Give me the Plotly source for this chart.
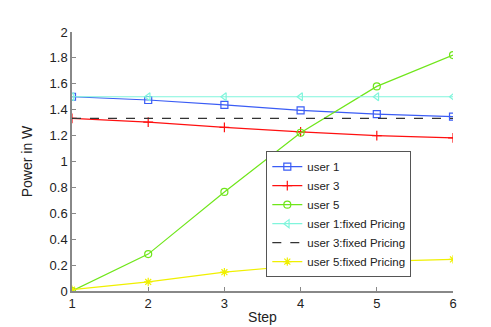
import plotly.graph_objects as go

steps = [1, 2, 3, 4, 5, 6]
user1 = [1.50, 1.475, 1.437, 1.395, 1.366, 1.347]
user3 = [1.333, 1.304, 1.264, 1.228, 1.200, 1.183]
user5 = [0.0, 0.285, 0.765, 1.222, 1.580, 1.822]
user1_fixed = [1.50, 1.50, 1.50, 1.50, 1.50, 1.50]
user3_fixed = [1.333, 1.333, 1.333, 1.333, 1.333, 1.333]
user5_fixed = [0.01, 0.07, 0.145, 0.197, 0.229, 0.244]

series = [
    ("user 1", user1, "#3a5cf5", "square-open", "solid"),
    ("user 3", user3, "#ff1010", "cross-thin-open", "solid"),
    ("user 5", user5, "#6fe61a", "circle-open", "solid"),
    ("user 1:fixed Pricing", user1_fixed, "#80f5dc", "triangle-left-open", "solid"),
    ("user 3:fixed Pricing", user3_fixed, "#333333", None, "dash"),
    ("user 5:fixed Pricing", user5_fixed, "#f0f000", "asterisk-open", "solid"),
]

fig = go.Figure()
for name, vals, color, symbol, dash in series:
    if symbol is None:
        fig.add_trace(go.Scatter(x=steps, y=vals, name=name, mode="lines",
                                 line=dict(color=color, width=1.2, dash="dash")))
    else:
        fig.add_trace(go.Scatter(
            x=steps, y=vals, name=name, mode="lines+markers",
            line=dict(color=color, width=1.2, dash=dash),
            marker=dict(symbol=symbol, size=7, color=color,
                        line=dict(color=color, width=1.2))))

axis_style = dict(showgrid=False, zeroline=False, showline=True, linecolor="#888888",
                  linewidth=1.5, ticks="inside", ticklen=4, tickcolor="#888888",
                  tickfont=dict(family="Liberation Sans, Arial", size=13, color="#222"))

fig.update_layout(
    width=491, height=327,
    margin=dict(l=64, r=46, t=24, b=37),
    paper_bgcolor="white", plot_bgcolor="white",
    font=dict(family="Liberation Sans, Arial", size=12, color="#222"),
    xaxis=dict(range=[1, 6], dtick=1, title=dict(text="Step", standoff=2), **axis_style),
    yaxis=dict(range=[0, 2], dtick=0.2, title=dict(text="Power in W", standoff=14),
               tickformat="~g", **axis_style),
    legend=dict(x=0.51, y=0.54, xanchor="left", yanchor="top",
                bgcolor="white", bordercolor="#555555", borderwidth=1,
                font=dict(size=11.5), tracegroupgap=0, itemwidth=30),
    showlegend=True,
)

fig.write_html("out.html")
